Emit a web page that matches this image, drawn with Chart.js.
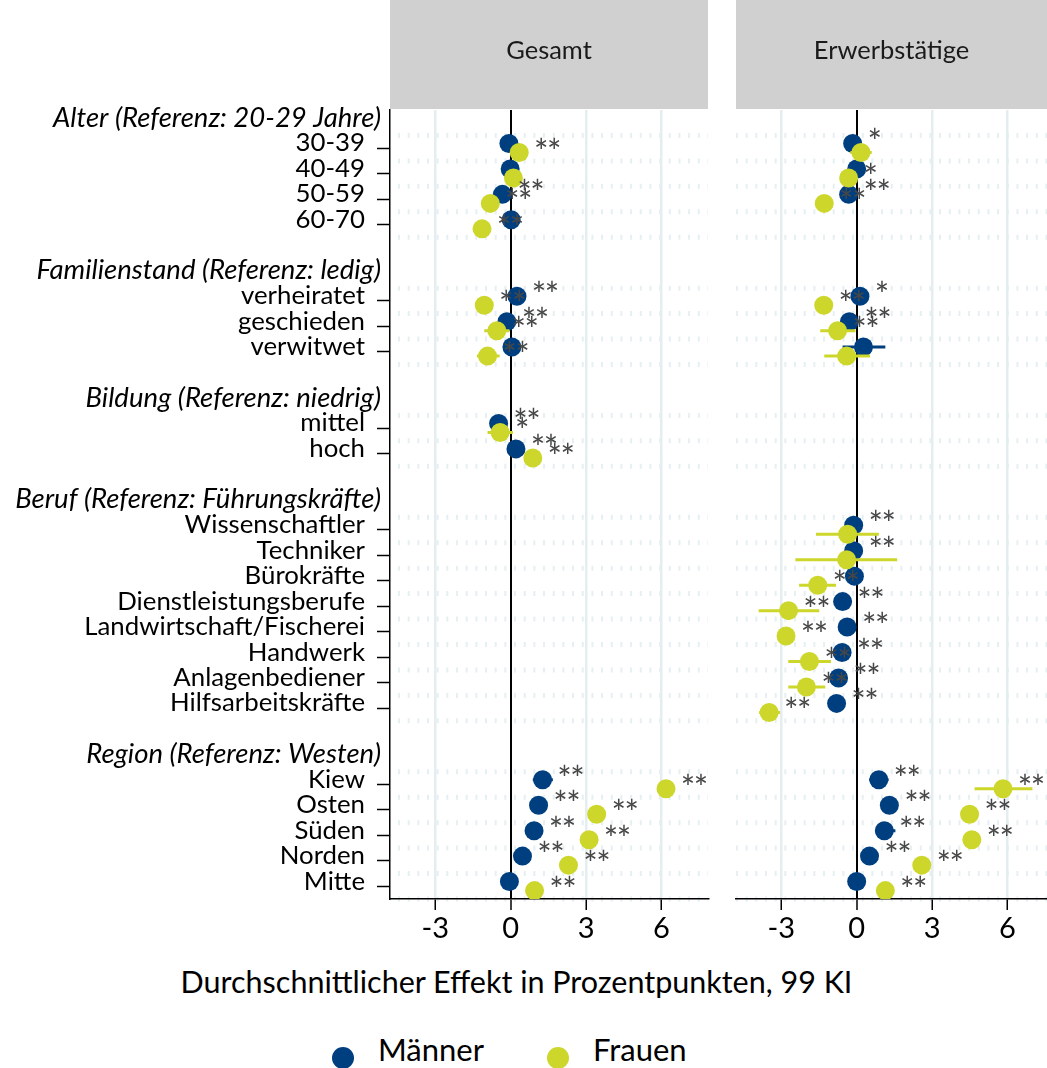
<!DOCTYPE html>
<html>
<head>
<meta charset="utf-8">
<script src="https://cdn.jsdelivr.net/npm/chart.js@4.4.1/dist/chart.umd.min.js"></script>
<style>
  body { margin: 0; width: 1047px; height: 1068px; overflow: hidden; background: #fff; font-family: Lato, sans-serif; position: relative; }
  .panel { position: absolute; top: 0; height: 950px; }
  #wrapL { left: 0; width: 720px; }
  #wrapR { left: 720px; width: 327px; }
  #xtitle { position: absolute; left: 0; width: 1033px; top: 966px; text-align: center; font-size: 30.5px; line-height: 1; color: #000; }
  .leg { position: absolute; top: 1034px; font-size: 31px; line-height: 1; color: #000; }
  .dot { position: absolute; top: 1047px; width: 22px; height: 22px; border-radius: 50%; }
</style>
</head>
<body>
<div class="panel" id="wrapL"><canvas id="cL"></canvas></div>
<div class="panel" id="wrapR"><canvas id="cR"></canvas></div>
<div id="xtitle">Durchschnittlicher Effekt in Prozentpunkten, 99 KI</div>
<div class="dot" style="left:332px;background:#003f7f"></div>
<div class="leg" style="left:378px">Männer</div>
<div class="dot" style="left:547px;background:#cdd72b"></div>
<div class="leg" style="left:593px">Frauen</div>
<script>
// rows of the coefficient plot, top to bottom ('' = spacer)
const rows = [
  'Alter (Referenz: 20-29 Jahre)', '30-39', '40-49', '50-59', '60-70', '',
  'Familienstand (Referenz: ledig)', 'verheiratet', 'geschieden', 'verwitwet', '',
  'Bildung (Referenz: niedrig)', 'mittel', 'hoch', '',
  'Beruf (Referenz: Führungskräfte)', 'Wissenschaftler', 'Techniker', 'Bürokräfte',
  'Dienstleistungsberufe', 'Landwirtschaft/Fischerei', 'Handwerk', 'Anlagenbediener',
  'Hilfsarbeitskräfte', '',
  'Region (Referenz: Westen)', 'Kiew', 'Osten', 'Süden', 'Norden', 'Mitte'
];
const headerRows = [0, 6, 11, 15, 25];
const xTicks = [-3, 0, 3, 6];
const panelTitles = ['Gesamt', 'Erwerbstätige'];
const seriesNames = ['Männer', 'Frauen'];

const _ = null;
// Gesamt - Männer
const gesM     = [_,-0.07,-0.02,-0.33,0.02,_, _,0.25,-0.15,0.05,_, _,-0.48,0.21,_, _,_,_,_,_,_,_,_,_,_, _,1.27,1.11,0.93,0.47,-0.05];
const gesMLo   = [_,_,_,_,_,_, _,_,_,_,_, _,_,_,_, _,_,_,_,_,_,_,_,_,_, _,0.88,_,_,_,_];
const gesMHi   = [_,_,_,_,_,_, _,_,_,_,_, _,_,_,_, _,_,_,_,_,_,_,_,_,_, _,1.68,_,_,_,_];
const gesMSig  = ['','','','**','','', '','**','**','','', '','**','**','', '','','','','','','','','','', '','**','**','**','**',''];
// Gesamt - Frauen
const gesF     = [_,0.34,0.11,-0.81,-1.14,_, _,-1.05,-0.55,-0.92,_, _,-0.42,0.88,_, _,_,_,_,_,_,_,_,_,_, _,6.18,3.42,3.12,2.30,0.95];
const gesFLo   = [_,_,_,_,_,_, _,_,-1.05,-1.34,_, _,-0.92,_,_, _,_,_,_,_,_,_,_,_,_, _,_,_,_,_,_];
const gesFHi   = [_,_,_,_,_,_, _,_,-0.05,-0.44,_, _,0.09,_,_, _,_,_,_,_,_,_,_,_,_, _,_,_,_,_,_];
const gesFSig  = ['','**','','**','**','', '','**','**','**','', '','*','**','', '','','','','','','','','','', '','**','**','**','**','**'];
// Erwerbstätige - Männer
const erwM     = [_,-0.16,0.0,-0.32,_,_, _,0.13,-0.29,0.27,_, _,_,_,_, _,-0.12,-0.12,-0.09,-0.56,-0.38,-0.58,-0.72,-0.80,_, _,0.88,1.30,1.10,0.51,0.0];
const erwMLo   = [_,_,_,_,_,_, _,_,_,-0.56,_, _,_,_,_, _,_,_,_,_,_,_,_,_,_, _,0.50,_,0.75,_,_];
const erwMHi   = [_,_,_,_,_,_, _,_,_,1.14,_, _,_,_,_, _,_,_,_,_,_,_,_,_,_, _,1.27,_,1.54,_,_];
const erwMSig  = ['','*','','**','','', '','*','**','','', '','','','', '','**','**','','**','**','**','**','**','', '','**','**','**','**',''];
// Erwerbstätige - Frauen
const erwF     = [_,0.17,-0.32,-1.29,_,_, _,-1.31,-0.76,-0.40,_, _,_,_,_, _,-0.36,-0.40,-1.55,-2.71,-2.81,-1.88,-2.00,-3.48,_, _,5.82,4.49,4.58,2.59,1.14];
const erwFLo   = [_,-0.25,_,_,_,_, _,_,-1.45,-1.29,_, _,_,_,_, _,-1.62,-2.44,-2.29,-3.90,_,-2.72,-2.72,-3.88,_, _,4.69,_,_,_,_];
const erwFHi   = [_,0.60,_,_,_,_, _,_,-0.05,0.53,_, _,_,_,_, _,0.88,1.61,-0.82,-1.49,_,-1.02,-1.25,-3.05,_, _,6.99,_,_,_,_];
const erwFSig  = ['','','*','**','','', '','**','**','','', '','','','', '','','','**','**','**','**','**','**','', '','**','**','**','**','**'];

const BLUE = '#003f7f', YELLOW = '#cdd72b';
const itemRows = rows.map((r, i) => i).filter(i => rows[i] !== '' && !headerRows.includes(i));

function buildSets(vals, lo, hi, sig, off, color, name, order) {
  const pts = [], ci = [];
  vals.forEach((v, i) => {
    if (v === null) return;
    pts.push({ x: v, y: i + off, star: sig[i] });
    if (lo[i] !== null) { ci.push({ x: lo[i], y: i + off }, { x: hi[i], y: i + off }, { x: null, y: null }); }
  });
  return [
    { label: name, data: pts, backgroundColor: color, pointRadius: 9.5, pointHoverRadius: 9.5, pointBorderWidth: 0, order: order, isPoints: true },
    { label: name + ' KI', data: ci, borderColor: color, borderWidth: 3, pointRadius: 0, showLine: true, spanGaps: false, order: order + 1 }
  ];
}

// dotted horizontal guides, grey strip title, significance stars
const decor = {
  id: 'decor',
  beforeDraw(chart, args, opts) {
    const { ctx, chartArea: a } = chart;
    const y = chart.scales.y;
    ctx.save();
    ctx.fillStyle = '#d0d0d0';
    ctx.fillRect(a.left, 0, a.right - a.left, 109);
    ctx.fillStyle = '#1a1a1a';
    ctx.font = '25.5px Lato';
    ctx.textAlign = 'center';
    ctx.textBaseline = 'middle';
    ctx.fillText(opts.title, (a.left + a.right) / 2, 51);
    const lines = new Set();
    itemRows.forEach(r => { lines.add(r - 0.5); lines.add(r + 0.5); });
    ctx.strokeStyle = '#e6eff1';
    ctx.lineWidth = 5;
    ctx.setLineDash([2, 7.67]);
    lines.forEach(v => {
      const py = y.getPixelForValue(v);
      ctx.beginPath();
      ctx.moveTo(a.left + opts.dotStart, py);
      ctx.lineTo(a.right, py);
      ctx.stroke();
    });
    ctx.restore();
  },
  afterDatasetsDraw(chart) {
    const { ctx } = chart;
    ctx.save();
    ctx.font = '34px Lato';
    ctx.fillStyle = '#474747';
    ctx.textAlign = 'center';
    ctx.textBaseline = 'alphabetic';
    const m = ctx.measureText('*');
    const mid = (m.actualBoundingBoxAscent - m.actualBoundingBoxDescent) / 2;
    chart.data.datasets.forEach((ds, di) => {
      if (!ds.isPoints) return;
      chart.getDatasetMeta(di).data.forEach((el, j) => {
        const s = ds.data[j].star;
        for (let k = 0; k < s.length; k++) ctx.fillText('*', el.x + 22 + 13 * k, el.y - 10 + mid);
      });
    });
    ctx.restore();
  }
};

// italic group headings on the left axis
const headings = {
  id: 'headings',
  afterDraw(chart) {
    const { ctx } = chart;
    const y = chart.scales.y;
    ctx.save();
    ctx.font = 'italic 27.5px Lato';
    ctx.fillStyle = '#000';
    ctx.textAlign = 'right';
    ctx.textBaseline = 'middle';
    headerRows.forEach(r => ctx.fillText(rows[r], 381, y.getPixelForValue(r) - 5));
    ctx.restore();
  }
};

function xScale(max) {
  return {
    type: 'linear', min: -4.8, max: max,
    afterBuildTicks: s => { s.ticks = xTicks.map(v => ({ value: v })); },
    afterFit: s => { s.height = 51; },
    ticks: { font: { family: 'Lato', size: 29 }, color: '#000', padding: 1, callback: v => String(v) },
    grid: {
      color: c => (c.tick && c.tick.value === 0) ? '#000' : '#e4eef0',
      lineWidth: c => (c.tick && c.tick.value === 0) ? 2 : 2.5,
      tickColor: '#000', tickLength: 11, tickWidth: 1.5
    },
    border: { display: true, color: '#000', width: 1.5 }
  };
}

function makeChart(id, sets, title, left) {
  const yAxis = left ? {
    type: 'linear', min: -0.5, max: 30.5, reverse: true,
    afterBuildTicks: s => { s.ticks = itemRows.map(v => ({ value: v })); },
    afterFit: s => { s.width = 390; },
    ticks: { autoSkip: false, callback: v => rows[v], font: { family: 'Lato', size: 25.8 }, color: '#000', padding: 12, labelOffset: -5 },
    grid: { drawOnChartArea: false, tickLength: 13, tickColor: '#000', tickWidth: 1.5 },
    border: { display: true, color: '#000', width: 1.5 }
  } : { type: 'linear', min: -0.5, max: 30.5, reverse: true, display: false };
  return new Chart(document.getElementById(id), {
    type: 'scatter',
    data: { datasets: sets },
    options: {
      responsive: true, maintainAspectRatio: false, animation: false,
      layout: { autoPadding: false, padding: left ? { top: 110, right: 12, left: 0, bottom: 0 } : { top: 110, right: 0, left: 16, bottom: 0 } },
      scales: { x: xScale(left ? 7.85 : 7.57), y: yAxis },
      plugins: { legend: { display: false }, tooltip: { enabled: false }, decor: { title: title, dotStart: left ? 8 : 0 } }
    },
    plugins: left ? [decor, headings] : [decor]
  });
}

makeChart('cL', [
  ...buildSets(gesM, gesMLo, gesMHi, gesMSig, -0.185, BLUE, seriesNames[0], 3),
  ...buildSets(gesF, gesFLo, gesFHi, gesFSig, 0.17, YELLOW, seriesNames[1], 1)
], panelTitles[0], true);

makeChart('cR', [
  ...buildSets(erwM, erwMLo, erwMHi, erwMSig, -0.185, BLUE, seriesNames[0], 3),
  ...buildSets(erwF, erwFLo, erwFHi, erwFSig, 0.17, YELLOW, seriesNames[1], 1)
], panelTitles[1], false);
</script>
</body>
</html>
